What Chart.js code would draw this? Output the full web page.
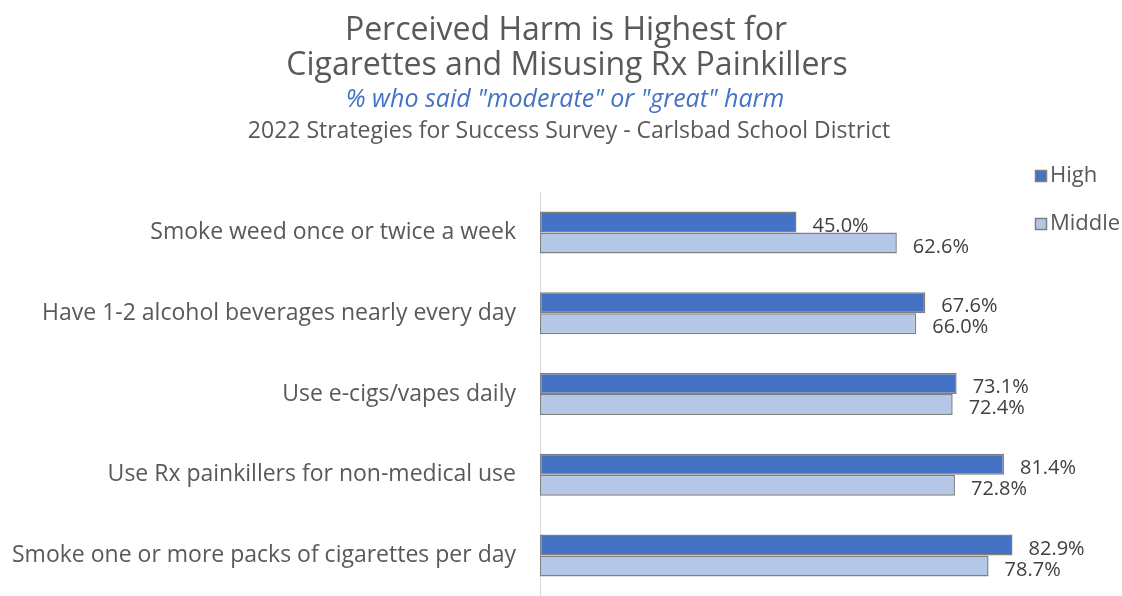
<!DOCTYPE html>
<html>
<head>
<meta charset="utf-8">
<script src="https://cdn.jsdelivr.net/npm/chart.js@4"></script>
<style>
  html, body { margin: 0; padding: 0; background: #fff; overflow: hidden; }
</style>
</head>
<body>
<canvas id="chart" width="1122" height="596"></canvas>
<script>
// Data
const categories = [
  "Smoke weed once or twice a week",
  "Have 1-2 alcohol beverages nearly every day",
  "Use e-cigs/vapes daily",
  "Use Rx painkillers for non-medical use",
  "Smoke one or more packs of cigarettes per day"
];
const highValues = [45.0, 67.6, 73.1, 81.4, 82.9];
const middleValues = [62.6, 66.0, 72.4, 72.8, 78.7];
const seriesNames = ["High", "Middle"];

const FONT = "'Open Sans', sans-serif";
const colors = ["#4472C4", "#B4C7E7"];

// header text + legend + bar value labels
const extras = {
  id: "extras",
  afterDraw(chart) {
    const ctx = chart.ctx;
    ctx.save();
    ctx.textAlign = "center";
    ctx.textBaseline = "middle";
    ctx.fillStyle = "#595959";
    ctx.font = "32px " + FONT;
    ctx.fillText("Perceived Harm is Highest for", 566, 31);
    ctx.fillText("Cigarettes and Misusing Rx Painkillers", 567, 66);
    ctx.fillStyle = "#4472C4";
    ctx.font = "italic 25px " + FONT;
    ctx.fillText('% who said "moderate" or "great" harm', 565, 100);
    ctx.fillStyle = "#595959";
    ctx.font = "23px " + FONT;
    ctx.fillText("2022 Strategies for Success Survey - Carlsbad School District", 569, 131);

    // legend
    ctx.textAlign = "left";
    seriesNames.forEach(function (name, i) {
      const y = 176 + i * 48;
      ctx.fillStyle = colors[i];
      ctx.fillRect(1035, y - 6, 12, 12);
      ctx.strokeStyle = "#808080";
      ctx.lineWidth = 1.5;
      ctx.strokeRect(1035.5, y - 5.5, 11, 11);
      ctx.fillStyle = "#595959";
      ctx.font = "22px " + FONT;
      ctx.fillText(name, 1050, y);
    });

    // value labels
    ctx.fillStyle = "#404040";
    ctx.font = "20px " + FONT;
    chart.data.datasets.forEach(function (ds, di) {
      chart.getDatasetMeta(di).data.forEach(function (bar, i) {
        ctx.fillText(ds.data[i].toFixed(1) + "%", bar.x + 16, bar.y + 4);
      });
    });
    ctx.restore();
  }
};

new Chart(document.getElementById("chart"), {
  type: "bar",
  data: {
    labels: categories,
    datasets: [
      {
        label: seriesNames[0],
        data: highValues,
        backgroundColor: colors[0],
        borderColor: "#808080",
        borderWidth: 1.5,
        borderSkipped: false
      },
      {
        label: seriesNames[1],
        data: middleValues,
        backgroundColor: colors[1],
        borderColor: "#808080",
        borderWidth: 1.5,
        borderSkipped: false
      }
    ]
  },
  options: {
    indexAxis: "y",
    responsive: false,
    animation: false,
    layout: { padding: { top: 192, right: 12, bottom: 0, left: 0 } },
    datasets: { bar: { categoryPercentage: 0.52, barPercentage: 1.0 } },
    plugins: {
      legend: { display: false },
      title: { display: false },
      tooltip: { enabled: false }
    },
    scales: {
      x: {
        display: false,
        min: 0,
        max: 100
      },
      y: {
        afterFit: function (scale) {
          scale.width = 540;
          scale.paddingTop = 0;
          scale.paddingBottom = 0;
        },
        grid: { display: false },
        border: { display: true, color: "#D9D9D9", width: 1 },
        ticks: {
          padding: 16,
          color: "#595959",
          font: { family: FONT, size: 23 }
        }
      }
    }
  },
  plugins: [extras]
});
</script>
</body>
</html>
